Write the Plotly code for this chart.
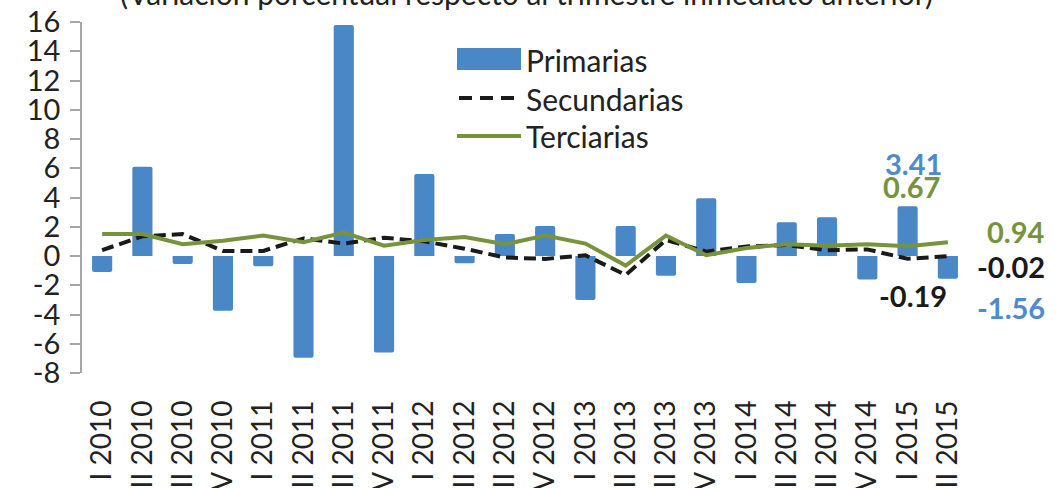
import plotly.graph_objects as go

# Quarterly variation by activity group, 2010 Q1 – 2015 Q2
quarters = ["I", "II", "III", "IV"] * 5 + ["I", "II"]
years = [y for y in range(2010, 2015) for _ in range(4)] + [2015, 2015]
categories = [f"{q} {y}" for q, y in zip(quarters, years)]

primarias = [-1.1, 6.1, -0.55, -3.75, -0.7, -6.95, 15.8, -6.6, 5.6, -0.5, 1.5,
             2.05, -3.0, 2.05, -1.35, 3.95, -1.85, 2.3, 2.65, -1.6, 3.41, -1.56]
secundarias = [0.4, 1.35, 1.5, 0.35, 0.35, 1.2, 0.85, 1.25, 1.0, 0.5, -0.1,
               -0.2, 0.05, -1.3, 1.1, 0.3, 0.65, 0.75, 0.4, 0.45, -0.19, -0.02]
terciarias = [1.5, 1.5, 0.8, 1.05, 1.4, 0.95, 1.6, 0.7, 1.1, 1.3, 0.8,
              1.4, 0.85, -0.65, 1.4, 0.05, 0.55, 0.8, 0.7, 0.8, 0.67, 0.94]

y_ticks = list(range(-8, 17, 2))

BLUE = "#4A87C6"
BLUE_TXT = "#4F8BCB"
GREEN = "#77933C"
BLACK = "#1A1A1A"
GREY = "#A6A6A6"
TEXT = "#222222"
FONT = "Lato"

W, H = 1059, 488
ML, MR, MT, MB = 82, 91, 22, 115
PW, PH = W - ML - MR, H - MT - MB


def px_x(p):
    return (p - ML) / PW


def px_y(p):
    return (H - MB - p) / PH


fig = go.Figure()
fig.add_trace(go.Bar(x=categories, y=primarias, name="Primarias",
                     marker=dict(color=BLUE, line=dict(width=0), cornerradius=2),
                     width=0.5, showlegend=False))
fig.add_trace(go.Scatter(x=categories, y=secundarias, name="Secundarias", mode="lines",
                         line=dict(color=BLACK, width=4, dash="12px,6px"),
                         showlegend=False))
fig.add_trace(go.Scatter(x=categories, y=terciarias, name="Terciarias", mode="lines",
                         line=dict(color=GREEN, width=4), showlegend=False))

# Legend keys drawn as shapes with text labels
shapes = [
    dict(type="rect", xref="paper", yref="paper", x0=px_x(457), x1=px_x(521),
         y0=px_y(70), y1=px_y(48), fillcolor=BLUE, line=dict(width=0)),
    dict(type="line", xref="paper", yref="paper", x0=px_x(459), x1=px_x(521),
         y0=px_y(98), y1=px_y(98), line=dict(color=BLACK, width=4, dash="13px,8px")),
    dict(type="line", xref="paper", yref="paper", x0=px_x(457), x1=px_x(521),
         y0=px_y(136), y1=px_y(136), line=dict(color=GREEN, width=4)),
]

annotations = []
for name, yc in [("Primarias", 60), ("Secundarias", 99), ("Terciarias", 136)]:
    annotations.append(dict(text=name, xref="paper", yref="paper", x=px_x(524), y=px_y(yc),
                            xanchor="left", yanchor="middle", showarrow=False,
                            font=dict(family=FONT, size=30, color=TEXT)))

annotations.append(dict(text="(Variación porcentual respecto al trimestre inmediato anterior)",
                        xref="paper", yref="paper", x=px_x(526), y=px_y(13),
                        xanchor="center", yanchor="bottom", showarrow=False,
                        font=dict(family=FONT, size=30, color=TEXT)))

# Value labels for the last two quarters
last, prev = len(categories) - 1, len(categories) - 2
value_labels = [
    (prev, primarias[prev], BLUE_TXT, 6, 43),
    (prev, terciarias[prev], GREEN, 4, 60),
    (last, terciarias[last], GREEN, 68, 11),
    (last, secundarias[last], BLACK, 63, -10),
    (prev, secundarias[prev], BLACK, 5, -37),
    (last, primarias[last], BLUE_TXT, 63, -29),
]
for i, v, col, dx, dy in value_labels:
    annotations.append(dict(text=f"{v:.2f}", x=categories[i], y=v, xref="x", yref="y",
                            xshift=dx, yshift=dy, showarrow=False,
                            xanchor="center", yanchor="middle",
                            font=dict(family=FONT, size=29, color=col, weight="bold")))

fig.update_layout(
    width=W, height=H,
    margin=dict(l=ML, r=MR, t=MT, b=MB, autoexpand=False),
    paper_bgcolor="white", plot_bgcolor="white",
    bargap=0.5,
    shapes=shapes,
    annotations=annotations,
    xaxis=dict(type="category", categoryorder="array", categoryarray=categories,
               range=[-0.5, len(categories) - 0.5], showline=False, ticks="",
               showgrid=False, zeroline=False, tickangle=-90, automargin=False,
               ticklabelstandoff=21,
               tickfont=dict(family=FONT, size=28, color=TEXT)),
    xaxis2=dict(overlaying="x", anchor="free", position=px_y(257), matches=None,
                range=[-0.5, len(categories) - 0.5], tickmode="linear", tick0=-0.5, dtick=1,
                ticks="outside", ticklen=9, tickwidth=1.5, tickcolor=GREY,
                showline=True, linecolor=GREY, linewidth=1.5, showticklabels=False,
                showgrid=False, zeroline=False, layer="below traces"),
    yaxis=dict(range=[-8, 16], tickmode="array", tickvals=y_ticks,
               ticktext=[str(t) for t in y_ticks],
               showline=True, linecolor=GREY, linewidth=1.5,
               ticks="outside", ticklen=10, tickwidth=1.5, tickcolor=GREY,
               ticklabelstandoff=4,
               showgrid=False, zeroline=False, automargin=False,
               tickfont=dict(family=FONT, size=29, color=TEXT)),
)

fig.write_html("out.html")
